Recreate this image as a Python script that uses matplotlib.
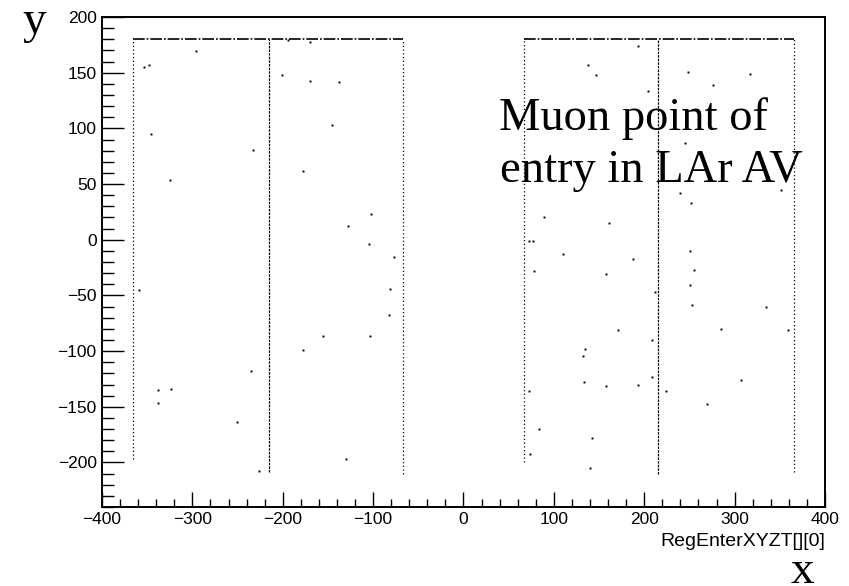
import matplotlib
matplotlib.use("Agg")
import matplotlib.pyplot as plt
from matplotlib.ticker import MultipleLocator

# detector walls seen as dense lines of entry points
wall_x = [-366, -215, -67, 67, 215, 366]
wall_ymin = [-197, -209, -210, -200, -210, -209]
wall_ymax = [180, 180, 180, 180, 180, 180]
wall_style = ["sparse", "dense", "sparse", "sparse", "dense", "sparse"]

# top face segments at y = 180
top_y = [180, 180]
top_xmin = [-366, 67]
top_xmax = [-67, 366]

# stray entry points
pts_x = [-296.5, -353.6, -347.7, -345.4, -325.2, -232.5, -200.8, -169.5, -138.3,
         -145.6, -178.0, -102.5, -128.3, -105.1, -76.8, -193.8, -169.5,
         -359.5, -338.2, -324.1, -338.2, -235.0, -250.9, -226.6, -178.0, -155.5,
         -104.0, -80.8, -82.6, -129.8,
         137.8, 146.3, 193.0, 248.3, 317.5, 275.9, 204.1, 244.6, 89.2, 160.7,
         76.4, 72.7, 109.6, 187.5, 250.9, 252.0, 239.1, 351.4,
         77.5, 157.4, 254.9, 250.1, 253.1, 334.8, 170.6, 285.1, 359.1, 134.9,
         132.0, 133.4, 157.7, 193.5, 307.6, 223.6, 72.3, 268.9, 83.4, 141.9,
         73.4, 140.5, 208.5, 208.9, 212.3]
pts_y = [169.5, 155.1, 156.6, 95.3, 53.4, 81.0, 148.3, 142.6, 141.7,
         103.4, 61.5, 23.2, 12.4, -3.8, -15.1, 179.0, 177.6,
         -45.3, -135.1, -133.9, -146.5, -117.8, -164.1, -208.1, -98.9, -86.4,
         -86.4, -44.4, -67.8, -197.1,
         156.6, 147.7, 174.0, 150.6, 149.2, 138.7, 133.3, 86.9, 20.0, 15.1,
         -0.7, -1.0, -12.8, -16.9, -9.7, 33.4, 42.0, 44.4,
         -28.3, -30.7, -27.1, -40.8, -58.2, -60.6, -81.5, -80.3, -81.5, -98.0,
         -104.8, -127.9, -131.5, -130.3, -125.9, -136.0, -136.0, -147.7, -169.8, -177.9,
         -192.8, -204.9, -90.2, -123.2, -46.9]

x_range = (-400, 400)
y_range = (-240, 200)
x_title = "RegEnterXYZT[][0]"

W, H = 849, 586
fig = plt.figure(figsize=(W / 100, H / 100), dpi=100)
ax = fig.add_axes([102 / W, 1 - 507 / H, 723 / W, 490 / H])

dash = {"sparse": (0, (1.0, 2.0)), "dense": (0, (2.0, 0.9))}
for x, y0, y1, s in zip(wall_x, wall_ymin, wall_ymax, wall_style):
    ax.vlines(x, y0, y1, colors="black", linewidth=0.9, linestyles=[dash[s]])
ax.hlines(top_y, top_xmin, top_xmax, colors="black", linewidth=1.2,
          linestyles=[(0, (7, 1.2, 1, 1.2))])
ax.plot(pts_x, pts_y, "s", color="black", markersize=1.4, markeredgewidth=0)

ax.set_xlim(*x_range)
ax.set_ylim(*y_range)
ax.xaxis.set_major_locator(MultipleLocator(100))
ax.xaxis.set_minor_locator(MultipleLocator(20))
ax.yaxis.set_major_locator(MultipleLocator(50))
ax.yaxis.set_minor_locator(MultipleLocator(10))

sans = ["Liberation Sans", "DejaVu Sans"]
ax.tick_params(axis="x", which="major", direction="in", length=11, width=1, pad=3.5,
               top=False)
ax.tick_params(axis="x", which="minor", direction="in", length=5.8, width=1, top=False)
ax.tick_params(axis="y", which="major", direction="in", length=16, width=1, pad=3.8,
               right=False)
ax.tick_params(axis="y", which="minor", direction="in", length=8.8, width=1, right=False)
for lab in ax.get_xticklabels() + ax.get_yticklabels():
    lab.set_fontfamily(sans)
    lab.set_fontsize(12.5)
for sp in ax.spines.values():
    sp.set_linewidth(1.4)

fig.text(825 / W, 1 - 541 / H, x_title, ha="right", va="center",
         family=sans, fontsize=14)

serif = ["Liberation Serif", "DejaVu Serif"]
fig.text(22 / W, 1 - 33 / H, "y", ha="left", va="baseline", family=serif, fontsize=34)
fig.text(791 / W, 1 - 583 / H, "x", ha="left", va="baseline", family=serif, fontsize=34)
fig.text(499 / W, 1 - 130 / H, "Muon point of", ha="left", va="baseline",
         family=serif, fontsize=33.5)
fig.text(500 / W, 1 - 182 / H, "entry in LAr AV", ha="left", va="baseline",
         family=serif, fontsize=33.5)

fig.savefig("out.png", dpi=100)
